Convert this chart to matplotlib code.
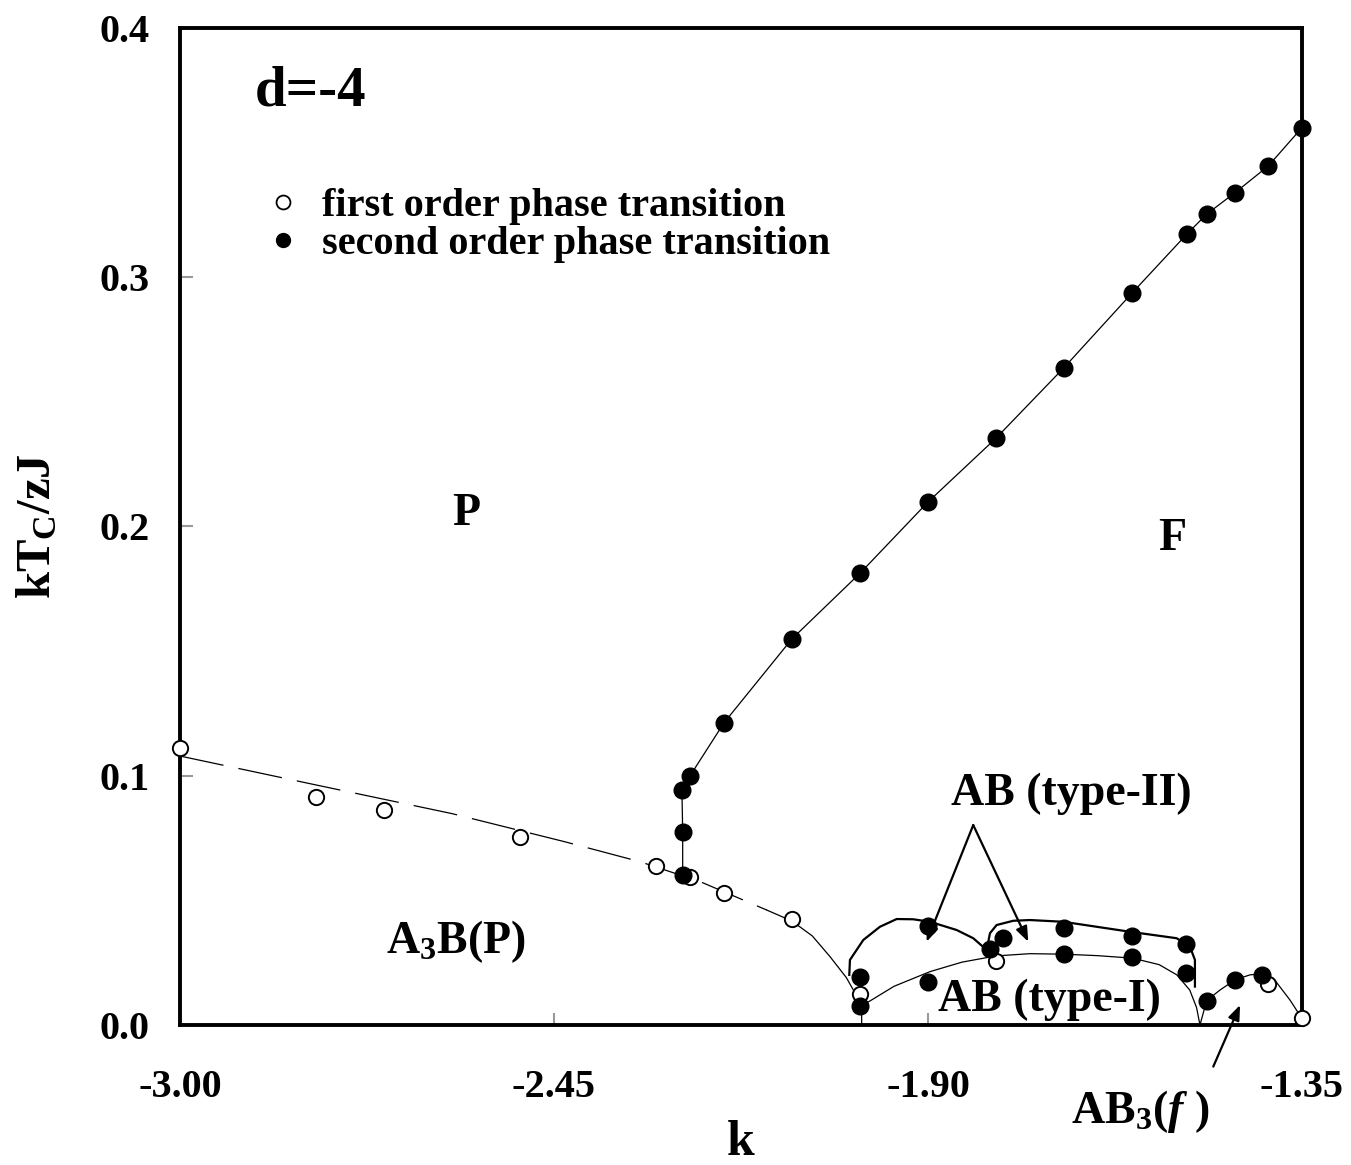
import matplotlib
matplotlib.use("Agg")
import matplotlib.pyplot as plt
from matplotlib.lines import Line2D

plt.rcParams['font.family'] = ['Liberation Serif', 'DejaVu Serif']
plt.rcParams['font.weight'] = 'bold'
plt.rcParams['mathtext.fontset'] = 'custom'
plt.rcParams['mathtext.rm'] = 'Liberation Serif:bold'
plt.rcParams['mathtext.bf'] = 'Liberation Serif:bold'
plt.rcParams['mathtext.it'] = 'Liberation Serif:bold:italic'
plt.rcParams['lines.scale_dashes'] = False

# ---------------- data ----------------
# first order transitions (open circles)
first_k = [-3.00, -2.80, -2.70, -2.50, -2.30, -2.25, -2.20, -2.10, -2.00, -1.80, -1.40, -1.35]
first_T = [0.1110, 0.0916, 0.0863, 0.0753, 0.0639, 0.0593, 0.0531, 0.0424, 0.0124, 0.0258, 0.0164, 0.0027]

# second order transitions on the F/P line (filled circles)
fp_k = [-2.2607, -2.2607, -2.2618, -2.25, -2.20, -2.10, -2.00, -1.90, -1.80, -1.70, -1.60, -1.5196, -1.4897, -1.4485, -1.3996, -1.35]
fp_T = [0.0602, 0.0776, 0.0942, 0.0999, 0.1212, 0.1549, 0.1812, 0.2098, 0.2354, 0.2637, 0.2936, 0.3172, 0.3254, 0.3339, 0.3446, 0.3600]

# second order transitions in the AB / AB3 region (filled circles)
ab_k = [-2.00, -2.00, -1.90, -1.90, -1.809, -1.79, -1.70, -1.70, -1.60, -1.60, -1.52, -1.52, -1.49, -1.448, -1.409]
ab_T = [0.0191, 0.0076, 0.0397, 0.0171, 0.0305, 0.0348, 0.0390, 0.0284, 0.0357, 0.0274, 0.0324, 0.0207, 0.0098, 0.0180, 0.0200]

# boundary curves (vertices of the drawn lines)
dash_k = [-3.00, -2.80, -2.60, -2.434, -2.3235, -2.235, -2.137]
dash_T = [0.1079, 0.0963, 0.0848, 0.0735, 0.0655, 0.0575, 0.0461]

a3b_k = [-2.137, -2.10, -2.07, -2.044, -2.02, -2.007, -1.9975, -1.9975]
a3b_T = [0.0461, 0.0417, 0.0357, 0.0274, 0.0190, 0.0127, 0.0076, 0.0]

ab1_k = [-1.9975, -1.95, -1.897, -1.85, -1.80, -1.75, -1.70, -1.65, -1.599, -1.56, -1.534, -1.515, -1.505, -1.50]
ab1_T = [0.0076, 0.0155, 0.0214, 0.0252, 0.0277, 0.0286, 0.0284, 0.0278, 0.0268, 0.0242, 0.0201, 0.0140, 0.0070, 0.0]

ab2a_k = [-2.0157, -2.0147, -1.9951, -1.9706, -1.946, -1.9216, -1.897, -1.8578, -1.8334, -1.8137]
ab2a_T = [0.0201, 0.0261, 0.0341, 0.0394, 0.0425, 0.0424, 0.0414, 0.0381, 0.0348, 0.0301]

ab2b_k = [-1.8137, -1.8088, -1.799, -1.7746, -1.75, -1.701, -1.603, -1.5343, -1.5147, -1.5074, -1.5074]
ab2b_T = [0.0301, 0.0368, 0.0401, 0.0418, 0.0421, 0.0414, 0.0374, 0.0348, 0.0314, 0.0261, 0.0154]

ab3_k = [-1.50, -1.4901, -1.4706, -1.4485, -1.4265, -1.4088, -1.39, -1.3676, -1.3505]
ab3_T = [0.0, 0.0098, 0.0140, 0.0181, 0.0201, 0.0205, 0.0180, 0.0100, 0.0028]

x_ticks = [-3.00, -2.45, -1.90, -1.35]
y_ticks = [0.0, 0.1, 0.2, 0.3, 0.4]

# ---------------- figure ----------------
fig = plt.figure(figsize=(13.51, 11.65), dpi=100)
ax = fig.add_axes([0.1332, 0.1202, 0.8305, 0.8558])
ax.set_xlim(-3.0, -1.35)
ax.set_ylim(0.0, 0.4)

thin = 0.9
ax.plot(dash_k, dash_T, color='black', lw=thin, linestyle=(0, (32, 11)))
ax.plot(a3b_k, a3b_T, color='black', lw=thin)
ax.plot(fp_k, fp_T, color='black', lw=thin)
ax.plot(ab1_k, ab1_T, color='black', lw=thin)
ax.plot(ab3_k, ab3_T, color='black', lw=thin)
ax.plot(ab2a_k, ab2a_T, color='black', lw=1.6)
ax.plot(ab2b_k, ab2b_T, color='black', lw=1.6)

ax.plot(first_k, first_T, linestyle='none', marker='o', ms=11, mfc='white',
        mec='black', mew=1.4, clip_on=False, zorder=4)
ax.plot(fp_k, fp_T, linestyle='none', marker='o', ms=12, color='black',
        clip_on=False, zorder=5)
ax.plot(ab_k, ab_T, linestyle='none', marker='o', ms=12, color='black',
        clip_on=False, zorder=5)

# arrows
akw = dict(arrowstyle='-|>,head_length=0.9,head_width=0.35', color='black', lw=1.6,
           shrinkA=0, shrinkB=0)
ax.annotate('', xy=(-1.902, 0.0334), xytext=(-1.8334, 0.0802), arrowprops=akw)
ax.annotate('', xy=(-1.7525, 0.0334), xytext=(-1.8334, 0.0802), arrowprops=akw)
ax.annotate('', xy=(-1.441, 0.0080), xytext=(-1.4804, -0.0167), arrowprops=akw,
            annotation_clip=False)

# labels
ax.text(-2.8897, 0.3687, 'd=-4', fontsize=41, fontweight='bold', ha='left', va='baseline')
ax.text(-2.579, 0.2006, 'P', fontsize=33, fontweight='bold', ha='center', va='baseline')
ax.text(-1.541, 0.1905, 'F', fontsize=33, fontweight='bold', ha='center', va='baseline')
ax.text(-2.594, 0.0288, r'A$_3$B(P)', fontsize=33, fontweight='bold', ha='center', va='baseline')
ax.text(-1.6887, 0.0883, 'AB (type-II)', fontsize=33, fontweight='bold', ha='center', va='baseline')
ax.text(-1.722, 0.0056, 'AB (type-I)', fontsize=33, fontweight='bold', ha='center', va='baseline')
ax.text(-1.5882, -0.0393, r'AB$_3$($f$ )', fontsize=33, fontweight='bold', ha='center',
        va='baseline', clip_on=False)

handles = [Line2D([], [], linestyle='none', marker='o', ms=10, mfc='white', mec='black', mew=1.3),
           Line2D([], [], linestyle='none', marker='o', ms=10, color='black')]
leg = ax.legend(handles, ['first order phase transition', 'second order phase transition'],
                loc='upper left', bbox_to_anchor=(0.081, 0.840), frameon=False,
                prop={'family': 'Liberation Serif', 'weight': 'bold', 'size': 29},
                handlelength=0.6, handletextpad=0.68, labelspacing=0.03, borderpad=0,
                borderaxespad=0)

ax.set_xticks(x_ticks)
ax.set_xticklabels(['%.2f' % v for v in x_ticks])
ax.set_yticks(y_ticks)
ax.set_yticklabels(['%.1f' % v for v in y_ticks])
ax.tick_params(direction='in', length=9, width=1.5, color='0.6', labelsize=29, pad=22)
ax.tick_params(axis='x', pad=32)
for lab in ax.get_xticklabels() + ax.get_yticklabels():
    lab.set_fontweight('bold')

for s in ax.spines.values():
    s.set_linewidth(2.8)
    s.set_color('black')

ax.set_xlabel('k', fontsize=36, fontweight='bold', labelpad=10)
ax.set_ylabel(r'$\mathregular{kT_C/zJ}$', fontsize=35, fontweight='bold', labelpad=28)

fig.savefig('out.png', dpi=100)
